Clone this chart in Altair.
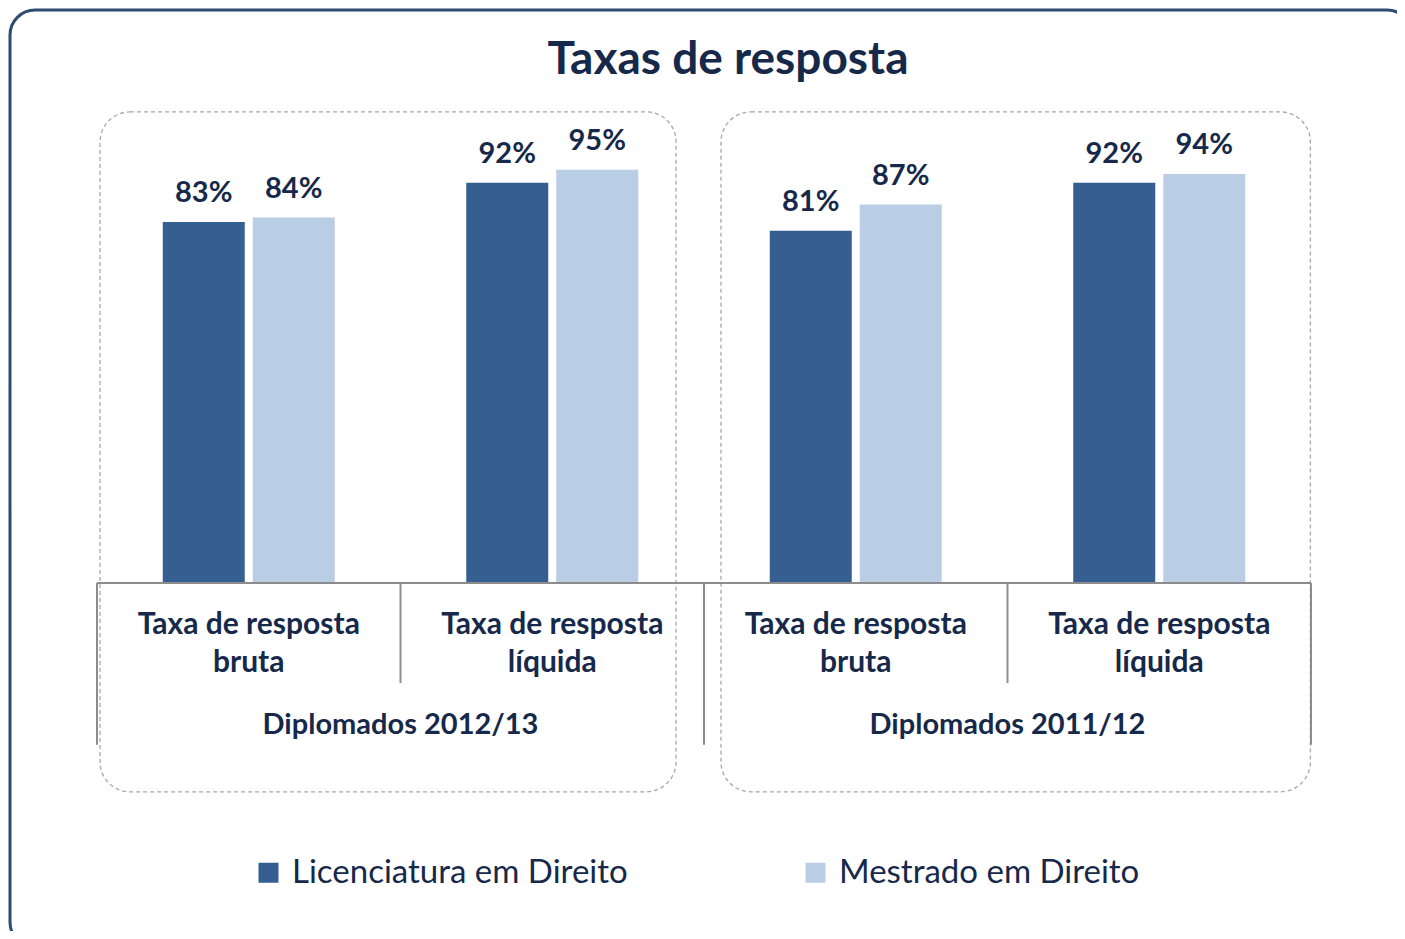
import altair as alt
import pandas as pd

# ---- data ----
groups = ["Diplomados 2012/13", "Diplomados 2011/12"]
measures = ["Taxa de resposta\nbruta", "Taxa de resposta\nlíquida"]
series = ["Licenciatura em Direito", "Mestrado em Direito"]
licenciatura = [83, 92, 81, 92]
mestrado = [84, 95, 87, 94]

# ---- styles ----
colors = ["#365F91", "#B9CDE5"]
navy = "#16294A"
axis_gray = "#8C8C8C"
box_gray = "#A8A8A8"
FONT = "Lato"

cats = [f"{g} | {m}" for g in groups for m in measures]
cat_df = pd.DataFrame({"cat": cats, "label": [m for g in groups for m in measures]})
bars_df = pd.DataFrame({
    "cat": cats * 2,
    "series": [series[0]] * 4 + [series[1]] * 4,
    "value": licenciatura + mestrado,
})
group_df = pd.DataFrame({"cat": [cats[1], cats[3]], "group": groups})
span_df = pd.DataFrame({"cat": [cats[0]], "cat_end": [cats[-1]]})
box1_df = pd.DataFrame({"cat": [cats[0]], "cat_end": [cats[1]]})
box2_df = pd.DataFrame({"cat": [cats[2]], "cat_end": [cats[3]]})

x_scale = alt.Scale(domain=cats, range=[87, 1301], paddingInner=0, paddingOuter=0)
y_scale = alt.Scale(domain=[0, 100], range=[573, 138], nice=False, zero=False)
off_scale = alt.Scale(domain=series, paddingInner=0.0889, paddingOuter=0.7306)

Y0 = alt.YDatum(0, axis=None)


def box(df, b0, b1):
    return alt.Chart(df).mark_rect(
        cornerRadius=30, fill="white", fillOpacity=0, stroke=box_gray,
        strokeDash=[4, 3], strokeWidth=1.3,
    ).encode(
        x=alt.X("cat:N", bandPosition=b0, axis=None),
        x2=alt.X2("cat_end", bandPosition=b1),
        y=alt.YDatum(108.3, axis=None),
        y2=alt.Y2Datum(-48.0),
    )


bars = alt.Chart(bars_df).mark_bar().encode(
    x=alt.X("cat:N", scale=x_scale, axis=None),
    xOffset=alt.XOffset("series:N", scale=off_scale),
    y=alt.Y("value:Q", scale=y_scale, axis=None),
    color=alt.Color(
        "series:N",
        scale=alt.Scale(domain=series, range=colors),
        legend=alt.Legend(
            orient="none", legendX=242, legendY=846, direction="horizontal",
            title=None, symbolType="square", symbolSize=400, symbolStrokeWidth=0,
            labelFont=FONT, labelFontSize=33, labelColor=navy, labelOffset=7,
            labelLimit=600, columnPadding=171, padding=0,
        ),
    ),
)

values = alt.Chart(bars_df).transform_calculate(
    label="datum.value + '%'"
).mark_text(
    font=FONT, fontSize=29, fontWeight="bold", color=navy,
    baseline="alphabetic", dy=-20,
).encode(
    x=alt.X("cat:N", axis=None),
    xOffset=alt.XOffset("series:N"),
    y=alt.Y("value:Q", axis=None),
    text="label:N",
)

axis_line = alt.Chart(span_df).mark_rule(color=axis_gray, strokeWidth=2).encode(
    x=alt.X("cat:N", bandPosition=0, axis=None),
    x2=alt.X2("cat_end", bandPosition=1),
    y=Y0,
)

long_ticks = alt.Chart(cat_df.iloc[[0, 2]]).mark_rule(color=axis_gray, strokeWidth=2).encode(
    x=alt.X("cat:N", bandPosition=0, axis=None), y=Y0, y2=alt.Y2Datum(-37.2),
)
end_tick = alt.Chart(cat_df.iloc[[3]]).mark_rule(color=axis_gray, strokeWidth=2).encode(
    x=alt.X("cat:N", bandPosition=1, axis=None), y=Y0, y2=alt.Y2Datum(-37.2),
)
short_ticks = alt.Chart(cat_df.iloc[[1, 3]]).mark_rule(color=axis_gray, strokeWidth=2).encode(
    x=alt.X("cat:N", bandPosition=0, axis=None), y=Y0, y2=alt.Y2Datum(-23.0),
)

cat_labels = alt.Chart(cat_df).mark_text(
    font=FONT, fontSize=30, fontWeight="bold", color=navy,
    baseline="alphabetic", dy=51, lineBreak="\n", lineHeight=38,
).encode(
    x=alt.X("cat:N", axis=None), y=Y0, text="label:N",
)

group_labels = alt.Chart(group_df).mark_text(
    font=FONT, fontSize=29, fontWeight="bold", color=navy,
    baseline="alphabetic", dy=151,
).encode(
    x=alt.X("cat:N", bandPosition=0, axis=None), y=Y0, text="group:N",
)

chart = alt.layer(
    bars,
    box(box1_df, 0.01, 0.908),
    box(box2_df, 0.056, 0.998),
    axis_line, long_ticks, end_tick, short_ticks,
    values, cat_labels, group_labels,
).properties(
    width=1402,
    height=937,
    autosize=alt.AutoSizeParams(type="none"),
    padding={"left": 2, "top": 2, "right": -15, "bottom": -16},
    title=alt.TitleParams(
        "Taxas de resposta", font=FONT, fontSize=46, fontWeight="bold",
        color=navy, anchor="middle", offset=-110, dx=17, baseline="alphabetic",
    ),
).configure_view(
    stroke="#2F4B70", strokeWidth=3, cornerRadius=25, fill="white",
)

chart.save("out.html", embed_options={"renderer": "svg", "actions": False})
